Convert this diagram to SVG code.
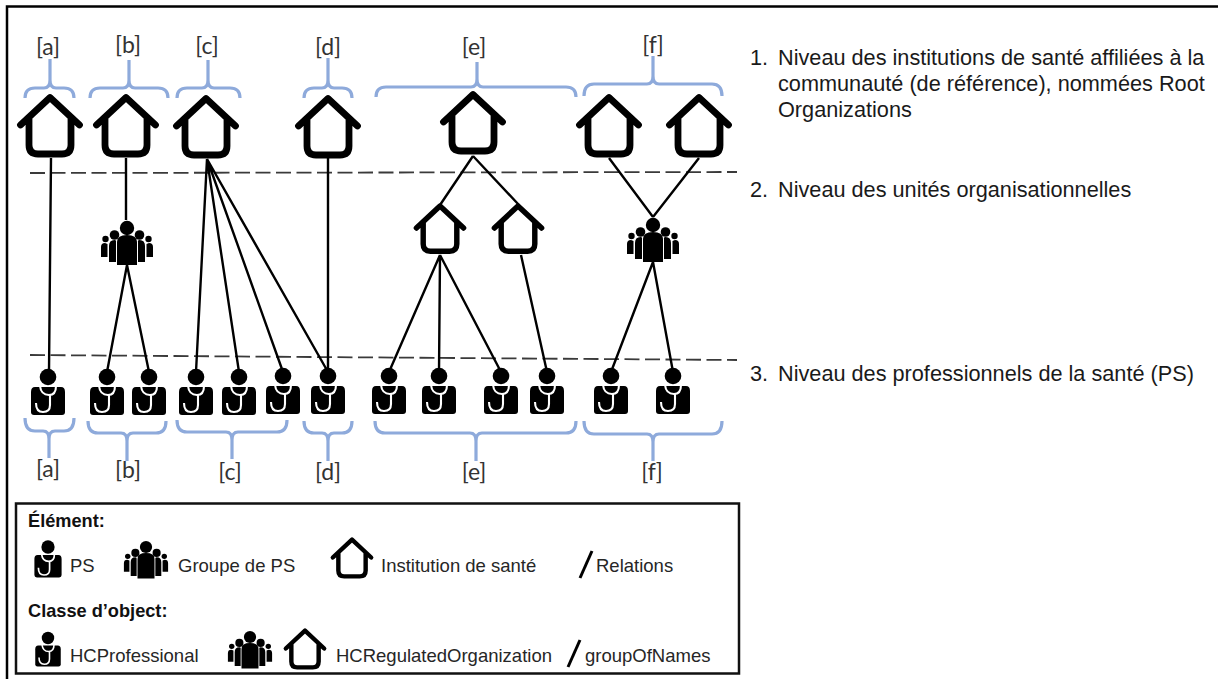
<svg xmlns="http://www.w3.org/2000/svg" width="1218" height="679" viewBox="0 0 1218 679">
<style>
.lk{stroke:#000;stroke-width:2.4;fill:none}
.dash{stroke:#3a3a3a;stroke-width:1.8;fill:none;stroke-dasharray:15 5.500}
.br{stroke:#8eaadb;stroke-width:3.200;fill:none}
.lb{font-family:Lato,"Liberation Sans",sans-serif;font-size:23px;fill:#333;text-anchor:middle}
.tx{font-family:"Liberation Sans",Arial,sans-serif;font-size:21.700px;fill:#1a1a1a}
.lg{font-family:"Liberation Sans",Arial,sans-serif;font-size:18.500px;fill:#262626}
.lh{font-family:"Liberation Sans",Arial,sans-serif;font-size:18.200px;font-weight:bold;fill:#111}
</style>
<defs>
<g id="house"><path d="M-29.500,31 L0,3.500 L29.500,31 M-21,24 V51 Q-21,60 -12,60 H12 Q21,60 21,51 V24" fill="#fff" stroke="#000" stroke-width="6.800" stroke-linecap="round" stroke-linejoin="round" transform="translate(0,-1)"/></g>
<g id="person"><circle cx="0" cy="0" r="8.300"/><path d="M-13,10 H13 Q17,10 17,15 V35 Q17,38 14,38 H-14 Q-17,38 -17,35 V15 Q-17,10 -13,10Z"/><path d="M-8,9 Q-7,18 1,18 Q8,18 8,9 M2,18 V28 Q2,35 -5,35 Q-12,35 -12,26" fill="none" stroke="#fff" stroke-width="2.100"/></g>
<g id="group"><circle cx="0" cy="0" r="7.200"/><path d="M-10,14 Q-10,7 0,7 Q10,7 10,14 V37 H-10Z"/><circle cx="-12.500" cy="7" r="4.800"/><circle cx="12.500" cy="7" r="4.800"/><path d="M-18,18 Q-18,12 -12.500,12 Q-10.500,12 -11,14 V34 H-18Z M18,18 Q18,12 12.500,12 Q10.500,12 11,14 V34 H18Z"/><circle cx="-21.500" cy="11" r="3.200"/><circle cx="21.500" cy="11" r="3.200"/><path d="M-26,19 Q-26,15 -22,15 L-19.500,16 V29 H-26Z M26,19 Q26,15 22,15 L19.500,16 V29 H26Z"/></g>
</defs>
<rect width="1218" height="679" fill="#fff"/>
<path d="M7,679 V6.500 H1218" fill="none" stroke="#000" stroke-width="2.500"/>
<g id="connectors">
<path class="dash" d="M30,173 L737,172"/>
<path class="dash" d="M30,355 L737,360"/>
<path class="lk" d="M51,158 L49,372 M126,158 V220 M127,265 L107,372 M127,265 L149,372 M207,159 L196,372 M207,159 L239,372 M207,159 L283,372 M207,159 L328,372 M328,158 V372 M473,156 L440,205 M473,156 L519,205 M440,255 L389,372 M440,255 L439,372 M440,255 L501,372 M521,255 L547,372 M609,158 L653,217 M699,158 L653,217 M653,262 L611,372 M653,262 L673,372"/>
</g>
<g id="braces">
<path class="br" d="M25,98 Q25,88 35,88 H44 Q50,88 50,80 V59 V80 Q50,88 56,88 H64 Q74,88 74,98"/>
<path class="br" d="M90,98 Q90,88 100,88 H123 Q129,88 129,80 V60 V80 Q129,88 135,88 H158 Q168,88 168,98"/>
<path class="br" d="M177,98 Q177,88 187,88 H202 Q208,88 208,80 V60 V80 Q208,88 214,88 H230 Q240,88 240,98"/>
<path class="br" d="M304,98 Q304,88 314,88 H322 Q328,88 328,80 V58 V80 Q328,88 334,88 H342 Q352,88 352,98"/>
<path class="br" d="M376,97 Q376,87 386,87 H471 Q477,87 477,79 V62 V79 Q477,87 483,87 H566 Q576,87 576,97"/>
<path class="br" d="M584,96 Q584,84 594,84 H647 Q653,84 653,76 V56 V76 Q653,84 659,84 H712 Q722,84 722,96"/>
<path class="br" d="M25,418 Q25,431 35,431 H43 Q49,431 49,439 V458 V439 Q49,431 55,431 H64 Q74,431 74,418"/>
<path class="br" d="M88,421 Q88,433 98,433 H121 Q127,433 127,441 V461 V441 Q127,433 133,433 H156 Q166,433 166,421"/>
<path class="br" d="M177,420 Q177,432 187,432 H226 Q232,432 232,440 V459 V440 Q232,432 238,432 H277 Q287,432 287,420"/>
<path class="br" d="M304,421 Q304,433 314,433 H322 Q328,433 328,441 V461 V441 Q328,433 334,433 H342 Q352,433 352,421"/>
<path class="br" d="M375,421 Q375,433 385,433 H470 Q476,433 476,441 V461 V441 Q476,433 482,433 H566 Q576,433 576,421"/>
<path class="br" d="M584,421 Q584,434 594,434 H647 Q653,434 653,442 V461 V442 Q653,434 659,434 H712 Q722,434 722,421"/>
</g>
<g id="labels">
<text class="lb" x="48" y="55">[a]</text><text class="lb" x="128" y="53">[b]</text><text class="lb" x="207" y="54">[c]</text><text class="lb" x="328" y="55">[d]</text><text class="lb" x="474" y="55">[e]</text><text class="lb" x="653" y="53">[f]</text>
<text class="lb" x="48" y="477">[a]</text><text class="lb" x="128" y="478">[b]</text><text class="lb" x="230" y="480">[c]</text><text class="lb" x="328" y="480">[d]</text><text class="lb" x="474" y="480">[e]</text><text class="lb" x="652" y="480">[f]</text>
</g>
<g id="inst-a"><use href="#house" transform="translate(50,95)"/></g>
<g id="inst-b"><use href="#house" transform="translate(126,95)"/></g>
<g id="inst-c"><use href="#house" transform="translate(206,96)"/></g>
<g id="inst-d"><use href="#house" transform="translate(328,96)"/></g>
<g id="inst-e"><use href="#house" transform="translate(473,92)"/></g>
<g id="inst-f1"><use href="#house" transform="translate(609,95)"/></g>
<g id="inst-f2"><use href="#house" transform="translate(699,95)"/></g>
<g id="unit-e1"><use href="#house" transform="translate(440,204) scale(.8)"/></g>
<g id="unit-e2"><use href="#house" transform="translate(518,204) scale(.8)"/></g>
<g id="group-b"><use href="#group" transform="translate(127,228)"/></g>
<g id="group-f"><use href="#group" transform="translate(653,225)"/></g>
<g id="ps-a"><use href="#person" transform="translate(48,377)"/></g>
<g id="ps-b1"><use href="#person" transform="translate(107,377)"/></g>
<g id="ps-b2"><use href="#person" transform="translate(149,377)"/></g>
<g id="ps-c1"><use href="#person" transform="translate(196,377)"/></g>
<g id="ps-c2"><use href="#person" transform="translate(239,377)"/></g>
<g id="ps-c3"><use href="#person" transform="translate(283,376)"/></g>
<g id="ps-d"><use href="#person" transform="translate(328,376)"/></g>
<g id="ps-e1"><use href="#person" transform="translate(389,376)"/></g>
<g id="ps-e2"><use href="#person" transform="translate(439,376)"/></g>
<g id="ps-e3"><use href="#person" transform="translate(501,376)"/></g>
<g id="ps-e4"><use href="#person" transform="translate(547,376)"/></g>
<g id="ps-f1"><use href="#person" transform="translate(611,376)"/></g>
<g id="ps-f2"><use href="#person" transform="translate(673,376)"/></g>
<g id="levels">
<text class="tx" x="750" y="65">1.</text><text class="tx" x="778" y="65">Niveau des institutions de santé affiliées à la</text>
<text class="tx" x="778" y="91">communauté (de référence), nommées Root</text>
<text class="tx" x="778" y="117">Organizations</text>
<text class="tx" x="750" y="197">2.</text><text class="tx" x="778" y="197">Niveau des unités organisationnelles</text>
<text class="tx" x="750" y="381">3.</text><text class="tx" x="778" y="381">Niveau des professionnels de la santé (PS)</text>
</g>
<g id="legend">
<rect x="16" y="503.500" width="723" height="170" fill="#fff" stroke="#111" stroke-width="2.500"/>
<text class="lh" x="28" y="527">Élément:</text>
<use href="#person" transform="translate(48,547) scale(.8)"/>
<text class="lg" x="70" y="572">PS</text>
<use href="#group" transform="translate(146,547) scale(.85)"/>
<text class="lg" x="178" y="572">Groupe de PS</text>
<use href="#house" transform="translate(352,538) scale(.65)"/>
<text class="lg" x="381" y="572">Institution de santé</text>
<path class="lk" d="M580,578 L592,551" style="stroke-width:3"/>
<text class="lg" x="596" y="572">Relations</text>
<text class="lh" x="28" y="617">Classe d’object:</text>
<use href="#person" transform="translate(48,638) scale(.75)"/>
<text class="lg" x="70" y="662">HCProfessional</text>
<use href="#group" transform="translate(250,637) scale(.85)"/>
<use href="#house" transform="translate(305,629) scale(.65)"/>
<text class="lg" x="336" y="662">HCRegulatedOrganization</text>
<path class="lk" d="M568,667 L580,640" style="stroke-width:3"/>
<text class="lg" x="585" y="662">groupOfNames</text>
</g>
</svg>
